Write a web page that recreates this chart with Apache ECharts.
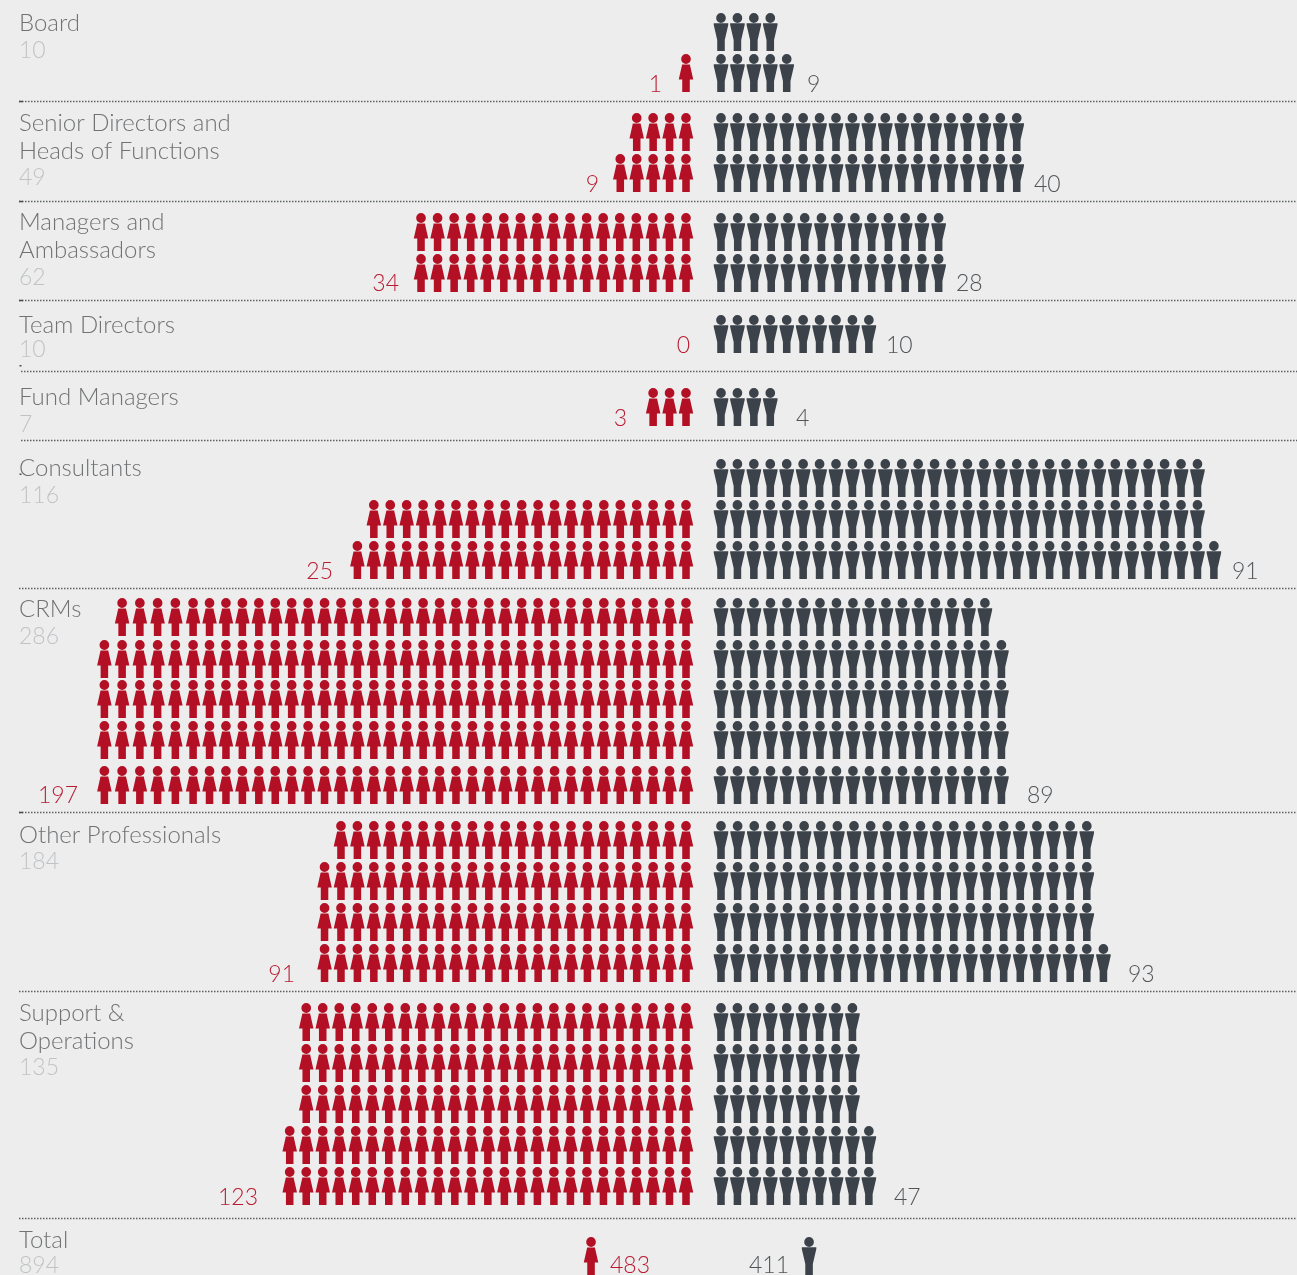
<!DOCTYPE html>
<html>
<head>
<meta charset="utf-8">
<style>html,body{margin:0;padding:0;background:#ededed}#chart{width:1297px;height:1275px}</style>
<script src="https://cdn.jsdelivr.net/npm/echarts@6/dist/echarts.min.js"></script>
</head>
<body>
<div id="chart"></div>
<script>
// Staff by role and gender, one pictogram per person.
const roles = ['Board', 'Senior Directors and\nHeads of Functions', 'Managers and\nAmbassadors', 'Team Directors',
  'Fund Managers', 'Consultants', 'CRMs', 'Other Professionals', 'Support &\nOperations', 'Total'];
const roleTotals = [10, 49, 62, 10, 7, 116, 286, 184, 135, 894];
const womenLabels = [1, 9, 34, 0, 3, 25, 197, 91, 123, 483];
const menLabels = [9, 40, 28, 10, 4, 91, 89, 93, 47, 411];

// Icons per row, top row first. The printed figures and the icon rows disagree for
// women in Consultants, CRMs and Support, and for men in Senior Directors; both are kept.
const womenRows = [[0, 1], [4, 5], [17, 17], [0], [3], [0, 20, 21], [35, 36, 36, 36, 36], [22, 23, 23, 23], [24, 24, 24, 25, 25], [1]];
const menRows = [[4, 5], [19, 19], [14, 14], [10], [4], [30, 30, 31], [17, 18, 18, 18, 18], [23, 23, 23, 24], [9, 9, 9, 10, 10], [1]];

// Lower edge of each icon row on the vertical scale.
const rowBottoms = [[51, 92], [151, 192], [251, 292], [353], [426], [497, 538, 579], [636, 678, 718, 759, 804],
  [859, 900, 941, 982], [1041, 1082, 1123, 1164, 1205], [1275]];
const dividers = [101, 201, 300, 371, 440, 588, 812, 991, 1218];
const dividerStart = [19, 19, 19, 21, 21, 19, 19, 19, 19];
const dividerLeadDash = [true, true, true, false, false, false, true, false, false];

// Column spacing per role, relative to the base step; the Total icon sits further out.
const womenSpread = [1, 1, 1.008, 1, 1, 1, 1, 1, 1.005, 1];
const menSpread = [1, 1, 1.019, 1, 1, 1, 1.004, 1.012, 1, 1];
const womenStart = [0, 0, 0, 0, 0, 0, 0, 0, 0, 5.78];
const menStart = [0, 0, 0, 0, 0, 0, 0, 0, 0, 5.36];

const W = 1297, H = 1275, STEP = 16.43, AXIS_ZERO = 703.5, GAP = 1.065, ICON_W = 14.5, ICON_H = 38;
const RED = '#b31025', SLATE = '#3b4249', NAME = '#707274', TOTAL = '#c0c3c6', MEN_TEXT = '#505559', RED_TEXT = '#b91a31';
const FONT = 'Lato';

const head = 'M7.5 0A5 5 0 1 1 7.49 0Z';
const womanIcon = 'path://' + head + 'M3.5 10.5L11.5 10.5L15 25.4L11.4 25.4L11.4 38L3.6 38L3.6 25.4L0 25.4Z';
const manIcon = 'path://' + head + 'M0 10.3L15 10.3L15 12L11.4 27L11.4 38L3.6 38L3.6 27L0 12Z';

// The outermost women's columns run slightly wider than the rest.
const columnOffset = (k, spread, start) => GAP + start + k * spread + (k > 30 ? (k - 30) * 0.08 : 0);

function points(rowsByRole, sign, spread, start) {
  const out = [];
  rowsByRole.forEach((rows, r) => rows.forEach((count, i) => {
    for (let k = 0; k < count; k++) out.push([sign * columnOffset(k, spread[r], start[r]), rowBottoms[r][i] - ICON_H / 2]);
  }));
  return out;
}

function iconSeries(name, data, symbol, color) {
  return { name, type: 'scatter', data, symbol, symbolSize: [ICON_W, ICON_H], silent: true,
    animation: false, progressive: 0, itemStyle: { color, opacity: 1 } };
}

const text = (x, y, value, fill, align, size) => ({
  type: 'text', x, y: y + 0.8, silent: true,
  style: { text: String(value), fill, font: '300 ' + (size || 23) + 'px ' + FONT, textAlign: align || 'left', textVerticalAlign: 'middle' }
});

const graphics = [];
const nameY = [[22], [122, 150], [221, 249], [324], [396], [467], [608], [834], [1012, 1040], [1239]];
const totalY = [50, 177, 277, 349, 424, 495, 636, 861, 1067, 1265];
roles.forEach((role, r) => {
  role.split('\n').forEach((line, i) => graphics.push(text(19, nameY[r][i], line, NAME, 'left', 24)));
  graphics.push(text(19, totalY[r], roleTotals[r], TOTAL));
});

const valueY = [84, 184, 283, 345, 418, 571, 795, 974, 1197, 1265];
const womenLabelEnd = [662, 599, 399, 690, 627, 333, 78, 295, 258];
const menLabelStart = [807, 1034, 956, 886, 796, 1232, 1027, 1128, 894];
womenLabelEnd.forEach((x, r) => graphics.push(text(x, valueY[r], womenLabels[r], RED_TEXT, 'right')));
menLabelStart.forEach((x, r) => graphics.push(text(x, valueY[r], menLabels[r], MEN_TEXT)));
graphics.push(text(610, valueY[9], womenLabels[9], RED_TEXT));
graphics.push(text(749, valueY[9], menLabels[9], MEN_TEXT));

dividers.forEach((y, i) => {
  graphics.push({
    type: 'line', silent: true, shape: { x1: dividerStart[i], y1: y + 0.5, x2: W + 2, y2: y + 0.5 },
    style: { stroke: '#5c6064', lineWidth: 1.5, lineDash: [1.5, 1.5] }
  });
  if (dividerLeadDash[i]) graphics.push({
    type: 'line', silent: true, shape: { x1: 19, y1: y + 0.5, x2: 23, y2: y + 0.5 },
    style: { stroke: '#4a4e52', lineWidth: 1.5 }
  });
});
// Stray print specks beside the Team Directors and Consultants text.
[[19.5, 365], [19.5, 473.5]].forEach(([x, y]) => graphics.push({
  type: 'rect', silent: true, shape: { x, y, width: 2, height: 1.5 }, style: { fill: '#4a4e52' }
}));

const chart = echarts.init(document.getElementById('chart'), null, { renderer: 'canvas', width: W, height: H });
chart.setOption({
  backgroundColor: '#ededed',
  animation: false,
  grid: { left: 0, right: 0, top: 0, bottom: 0 },
  xAxis: { type: 'value', min: -AXIS_ZERO / STEP, max: (W - AXIS_ZERO) / STEP, show: false },
  yAxis: { type: 'value', min: 0, max: H, inverse: true, show: false },
  series: [
    iconSeries('Women', points(womenRows, -1, womenSpread, womenStart), womanIcon, RED),
    iconSeries('Men', points(menRows, 1, menSpread, menStart), manIcon, SLATE)
  ],
  graphic: graphics
});
</script>
</body>
</html>
